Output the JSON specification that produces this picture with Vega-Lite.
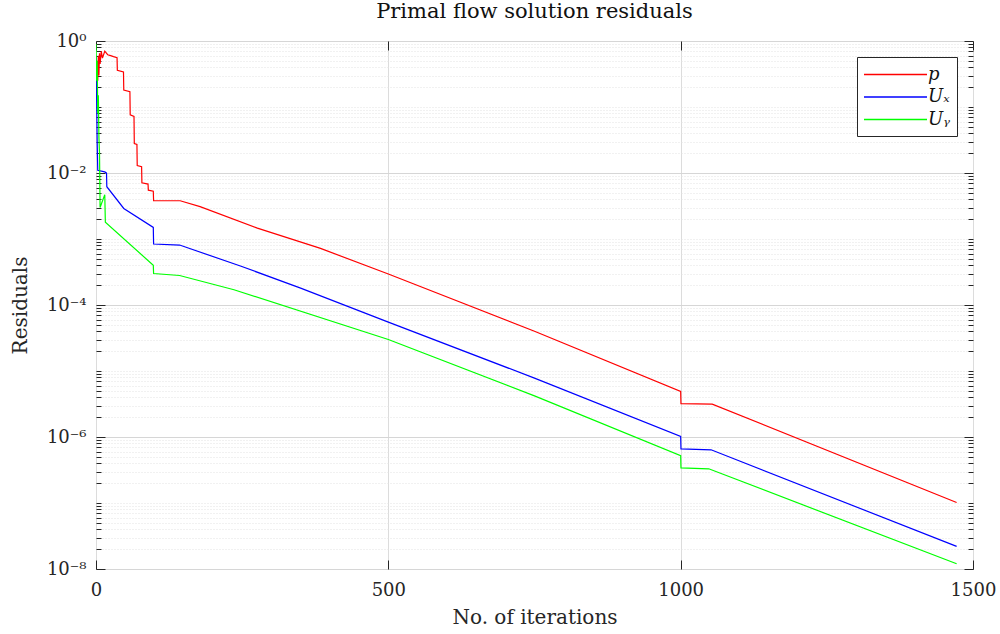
{
  "$schema": "https://vega.github.io/schema/vega-lite/v6.json",
  "width": 877,
  "height": 528,
  "autosize": {"type": "none"},
  "padding": {"left": 96, "top": 41, "right": 27, "bottom": 65},
  "background": "white",
  "config": {
    "view": {"stroke": "#262626", "strokeWidth": 1},
    "font": "DejaVu Serif",
    "axis": {"labelFont": "DejaVu Serif", "titleFont": "DejaVu Serif", "labelColor": "#262626", "titleColor": "#262626", "titleFontWeight": "normal", "domain": false, "tickColor": "#262626"}
  },
  "title": {"text": "Primal flow solution residuals", "font": "DejaVu Serif", "fontSize": 21, "fontWeight": "normal", "color": "#111111", "anchor": "middle", "offset": 10},
  "data": {
    "values": [
      {"iter": 0, "res": 0.35, "var": "p"},
      {"iter": 1, "res": 0.2, "var": "p"},
      {"iter": 2, "res": 0.5, "var": "p"},
      {"iter": 3, "res": 0.25, "var": "p"},
      {"iter": 4, "res": 0.6, "var": "p"},
      {"iter": 5, "res": 0.3, "var": "p"},
      {"iter": 6, "res": 0.65, "var": "p"},
      {"iter": 7, "res": 0.45, "var": "p"},
      {"iter": 9, "res": 0.7, "var": "p"},
      {"iter": 11, "res": 0.55, "var": "p"},
      {"iter": 15, "res": 0.7, "var": "p"},
      {"iter": 20, "res": 0.62, "var": "p"},
      {"iter": 25, "res": 0.6, "var": "p"},
      {"iter": 30, "res": 0.58, "var": "p"},
      {"iter": 36, "res": 0.56, "var": "p"},
      {"iter": 36.5, "res": 0.36, "var": "p"},
      {"iter": 47, "res": 0.34, "var": "p"},
      {"iter": 47.5, "res": 0.18, "var": "p"},
      {"iter": 58, "res": 0.17, "var": "p"},
      {"iter": 58.5, "res": 0.076, "var": "p"},
      {"iter": 65, "res": 0.072, "var": "p"},
      {"iter": 65.5, "res": 0.028, "var": "p"},
      {"iter": 70, "res": 0.027, "var": "p"},
      {"iter": 70.5, "res": 0.013, "var": "p"},
      {"iter": 78, "res": 0.0125, "var": "p"},
      {"iter": 78.5, "res": 0.0071, "var": "p"},
      {"iter": 89, "res": 0.0068, "var": "p"},
      {"iter": 89.5, "res": 0.0055, "var": "p"},
      {"iter": 98, "res": 0.0053, "var": "p"},
      {"iter": 98.5, "res": 0.0038, "var": "p"},
      {"iter": 144, "res": 0.0038, "var": "p"},
      {"iter": 178, "res": 0.0031, "var": "p"},
      {"iter": 276, "res": 0.00146, "var": "p"},
      {"iter": 384, "res": 0.00072, "var": "p"},
      {"iter": 500, "res": 0.000295, "var": "p"},
      {"iter": 750, "res": 0.00004, "var": "p"},
      {"iter": 1000, "res": 0.0000049, "var": "p"},
      {"iter": 1000.5, "res": 0.0000032, "var": "p"},
      {"iter": 1054, "res": 0.00000315, "var": "p"},
      {"iter": 1472, "res": 0.000000102, "var": "p"},

      {"iter": 0, "res": 0.6, "var": "Uₓ"},
      {"iter": 1, "res": 0.15, "var": "Uₓ"},
      {"iter": 2, "res": 0.03, "var": "Uₓ"},
      {"iter": 3, "res": 0.011, "var": "Uₓ"},
      {"iter": 15, "res": 0.0104, "var": "Uₓ"},
      {"iter": 18, "res": 0.01, "var": "Uₓ"},
      {"iter": 18.5, "res": 0.0062, "var": "Uₓ"},
      {"iter": 47.5, "res": 0.0029, "var": "Uₓ"},
      {"iter": 98, "res": 0.0015, "var": "Uₓ"},
      {"iter": 98.5, "res": 0.00084, "var": "Uₓ"},
      {"iter": 143, "res": 0.00081, "var": "Uₓ"},
      {"iter": 247, "res": 0.00039, "var": "Uₓ"},
      {"iter": 350, "res": 0.00018, "var": "Uₓ"},
      {"iter": 500, "res": 0.000055, "var": "Uₓ"},
      {"iter": 750, "res": 0.0000078, "var": "Uₓ"},
      {"iter": 1000, "res": 0.00000102, "var": "Uₓ"},
      {"iter": 1000.5, "res": 0.00000066, "var": "Uₓ"},
      {"iter": 1052, "res": 0.00000064, "var": "Uₓ"},
      {"iter": 1472, "res": 0.000000022, "var": "Uₓ"},

      {"iter": 0, "res": 0.9, "var": "Uᵧ"},
      {"iter": 1, "res": 0.25, "var": "Uᵧ"},
      {"iter": 2, "res": 0.5, "var": "Uᵧ"},
      {"iter": 3, "res": 0.08, "var": "Uᵧ"},
      {"iter": 4, "res": 0.15, "var": "Uᵧ"},
      {"iter": 5, "res": 0.035, "var": "Uᵧ"},
      {"iter": 6, "res": 0.02, "var": "Uᵧ"},
      {"iter": 7, "res": 0.003, "var": "Uᵧ"},
      {"iter": 15, "res": 0.0047, "var": "Uᵧ"},
      {"iter": 16, "res": 0.0018, "var": "Uᵧ"},
      {"iter": 98, "res": 0.0004, "var": "Uᵧ"},
      {"iter": 98.5, "res": 0.0003, "var": "Uᵧ"},
      {"iter": 143, "res": 0.00028, "var": "Uᵧ"},
      {"iter": 236, "res": 0.00017, "var": "Uᵧ"},
      {"iter": 500, "res": 0.00003, "var": "Uᵧ"},
      {"iter": 750, "res": 0.0000042, "var": "Uᵧ"},
      {"iter": 1000, "res": 0.00000052, "var": "Uᵧ"},
      {"iter": 1000.5, "res": 0.00000034, "var": "Uᵧ"},
      {"iter": 1048, "res": 0.00000033, "var": "Uᵧ"},
      {"iter": 1472, "res": 0.000000012, "var": "Uᵧ"}
    ]
  },
  "layer": [
    {
      "mark": {"type": "line", "strokeWidth": 1.2, "clip": true},
      "encoding": {
        "x": {
          "field": "iter", "type": "quantitative",
          "scale": {"domain": [0, 1500], "nice": false, "zero": false},
          "axis": {
            "title": "No. of iterations", "titleFontSize": 20, "titlePadding": 8,
            "values": [0, 500, 1000, 1500], "format": "d",
            "labelFontSize": 18, "labelPadding": 21, "labelFlush": false,
            "tickSize": -9, "tickWidth": 1,
            "grid": true, "gridColor": "#dcdcdc", "gridWidth": 1
          }
        },
        "y": {
          "field": "res", "type": "quantitative",
          "scale": {"type": "log", "domain": [1e-8, 1], "nice": false},
          "axis": {
            "title": "Residuals", "titleFontSize": 20, "titlePadding": 16,
            "values": [1e-8, 2e-8, 3e-8, 4e-8, 5e-8, 6e-8, 7e-8, 8e-8, 9e-8,
                       1e-7, 2e-7, 3e-7, 4e-7, 5e-7, 6e-7, 7e-7, 8e-7, 9e-7,
                       1e-6, 2e-6, 3e-6, 4e-6, 5e-6, 6e-6, 7e-6, 8e-6, 9e-6,
                       1e-5, 2e-5, 3e-5, 4e-5, 5e-5, 6e-5, 7e-5, 8e-5, 9e-5,
                       1e-4, 2e-4, 3e-4, 4e-4, 5e-4, 6e-4, 7e-4, 8e-4, 9e-4,
                       1e-3, 2e-3, 3e-3, 4e-3, 5e-3, 6e-3, 7e-3, 8e-3, 9e-3,
                       1e-2, 2e-2, 3e-2, 4e-2, 5e-2, 6e-2, 7e-2, 8e-2, 9e-2,
                       1e-1, 2e-1, 3e-1, 4e-1, 5e-1, 6e-1, 7e-1, 8e-1, 9e-1, 1],
            "labelExpr": "(abs(log(datum.value)/LN10 - round(log(datum.value)/LN10)) < 1e-6 && round(log(datum.value)/LN10) % 2 == 0) ? ['10⁰','10⁻¹','10⁻²','10⁻³','10⁻⁴','10⁻⁵','10⁻⁶','10⁻⁷','10⁻⁸'][-round(log(datum.value)/LN10)] : ''",
            "labelFontSize": 18, "labelPadding": 19, "labelFlush": false, "labelOverlap": false,
            "tickSize": {"condition": {"test": "abs(log(datum.value)/LN10 - round(log(datum.value)/LN10)) < 1e-6 && round(log(datum.value)/LN10) % 2 == 0", "value": -9}, "value": -5},
            "grid": true,
            "gridColor": {"condition": {"test": "abs(log(datum.value)/LN10 - round(log(datum.value)/LN10)) < 1e-6 && round(log(datum.value)/LN10) % 2 == 0", "value": "#d6d6d6"}, "value": "#e2e2e2"},
            "gridDash": {"condition": {"test": "abs(log(datum.value)/LN10 - round(log(datum.value)/LN10)) < 1e-6 && round(log(datum.value)/LN10) % 2 == 0", "value": []}, "value": [1, 2]}
          }
        },
        "color": {
          "field": "var", "type": "nominal",
          "scale": {"domain": ["p", "Uₓ", "Uᵧ"], "range": ["#ff0000", "#0000ff", "#00ff00"]},
          "legend": {
            "title": null, "orient": "top-right", "offset": 16,
            "symbolType": "M-1,-0.06H5V0.06H-1Z", "symbolSize": 441, "symbolStrokeWidth": 0,
            "labelFont": "DejaVu Serif", "labelFontStyle": "italic", "labelFontSize": 18, "labelColor": "#111111",
            "fillColor": "white", "strokeColor": "#262626", "padding": 7, "rowPadding": 2.5, "labelOffset": 43,
            "encode": {"symbols": {"update": {"fill": {"scale": "color", "field": "value"}, "stroke": {"value": "transparent"}, "strokeWidth": {"value": 0}, "opacity": {"value": 1}, "fillOpacity": {"value": 1}}}}
          }
        }
      }
    },
    {
      "mark": {"type": "line", "opacity": 0},
      "encoding": {
        "detail": {"field": "var", "type": "nominal"},
        "x": {
          "field": "iter", "type": "quantitative",
          "axis": {"orient": "top", "title": null, "labels": false, "grid": false, "values": [0, 500, 1000, 1500], "tickSize": -9}
        },
        "y": {
          "field": "res", "type": "quantitative",
          "axis": {"orient": "right", "title": null, "labels": false, "grid": false,
            "values": [1e-8, 2e-8, 3e-8, 4e-8, 5e-8, 6e-8, 7e-8, 8e-8, 9e-8,
                       1e-7, 2e-7, 3e-7, 4e-7, 5e-7, 6e-7, 7e-7, 8e-7, 9e-7,
                       1e-6, 2e-6, 3e-6, 4e-6, 5e-6, 6e-6, 7e-6, 8e-6, 9e-6,
                       1e-5, 2e-5, 3e-5, 4e-5, 5e-5, 6e-5, 7e-5, 8e-5, 9e-5,
                       1e-4, 2e-4, 3e-4, 4e-4, 5e-4, 6e-4, 7e-4, 8e-4, 9e-4,
                       1e-3, 2e-3, 3e-3, 4e-3, 5e-3, 6e-3, 7e-3, 8e-3, 9e-3,
                       1e-2, 2e-2, 3e-2, 4e-2, 5e-2, 6e-2, 7e-2, 8e-2, 9e-2,
                       1e-1, 2e-1, 3e-1, 4e-1, 5e-1, 6e-1, 7e-1, 8e-1, 9e-1, 1],
            "tickSize": {"condition": {"test": "abs(log(datum.value)/LN10 - round(log(datum.value)/LN10)) < 1e-6 && round(log(datum.value)/LN10) % 2 == 0", "value": -9}, "value": -5}
          }
        }
      }
    }
  ],
  "resolve": {"axis": {"x": "independent", "y": "independent"}}
}
